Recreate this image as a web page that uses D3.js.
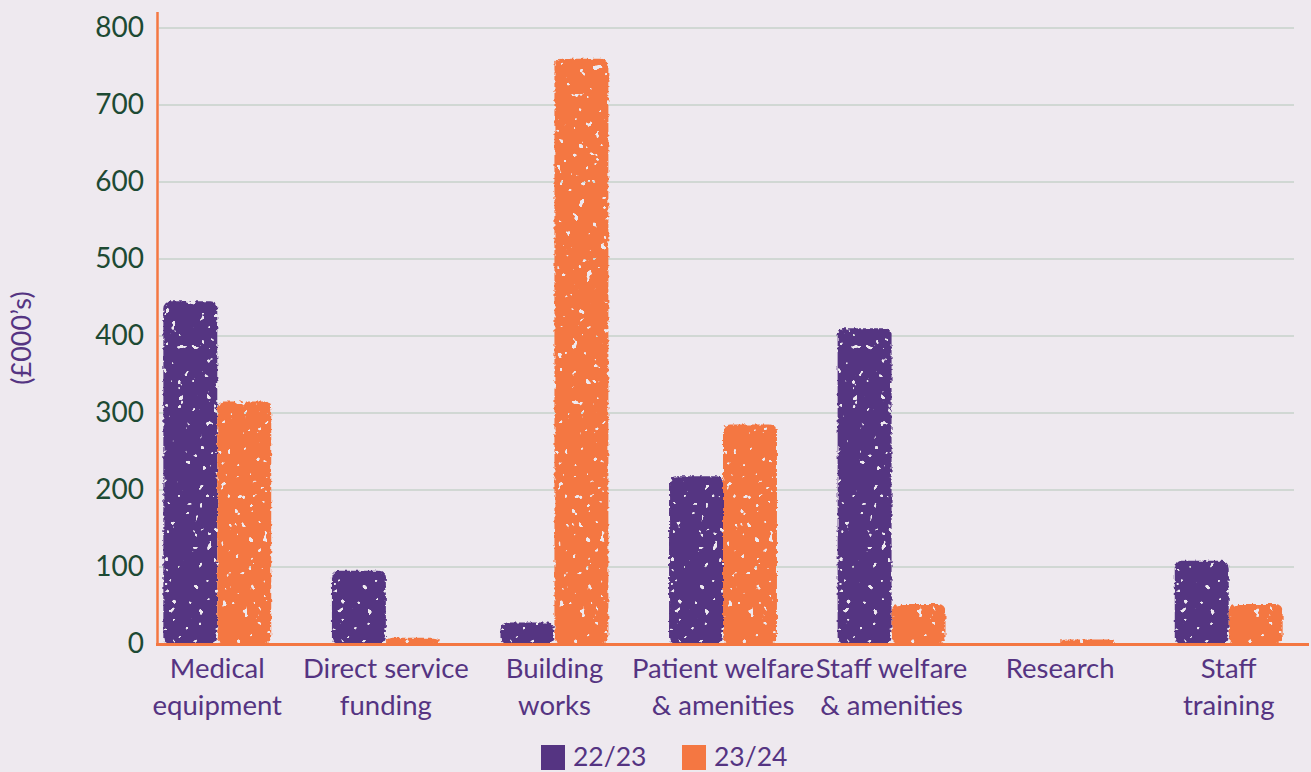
<!DOCTYPE html>
<html>
<head>
<meta charset="utf-8">
<script src="https://cdn.jsdelivr.net/npm/d3@7"></script>
<style>
  body { margin: 0; background: #eee9ef; }
  svg { display: block; font-family: Lato, "Noto Sans", sans-serif; }
</style>
</head>
<body>
<div class="chart"></div>
<script>
// data
let categories = ["Medical\nequipment", "Direct service\nfunding", "Building\nworks", "Patient welfare\n& amenities", "Staff welfare\n& amenities", "Research", "Staff\ntraining"];
let series = ["22/23", "23/24"];
let values2223 = [445, 95, 28, 218, 410, 0, 108];
let values2324 = [315, 8, 760, 285, 52, 6, 52];
let yTicks = [0, 100, 200, 300, 400, 500, 600, 700, 800];

let colorrange = ["#553482", "#f47742"];
let width = 1311, height = 772;

let svg = d3.select(".chart").append("svg")
    .attr("width", width)
    .attr("height", height);

// rough, speckled look of the bars
let defs = svg.append("defs");
let filt = defs.append("filter").attr("id", "rough")
    .attr("x", "-5%").attr("y", "-5%").attr("width", "110%").attr("height", "110%");
filt.append("feTurbulence").attr("type", "fractalNoise").attr("baseFrequency", "0.3")
    .attr("numOctaves", 2).attr("seed", 4).attr("result", "edge");
filt.append("feDisplacementMap").attr("in", "SourceGraphic").attr("in2", "edge")
    .attr("scale", 4).attr("xChannelSelector", "R").attr("yChannelSelector", "G").attr("result", "shaken");
filt.append("feTurbulence").attr("type", "fractalNoise").attr("baseFrequency", "0.14")
    .attr("numOctaves", 2).attr("seed", 9).attr("result", "noise");
filt.append("feColorMatrix").attr("in", "noise").attr("type", "matrix")
    .attr("values", "0 0 0 0 0  0 0 0 0 0  0 0 0 0 0  -30 0 0 0 22").attr("result", "mask");
filt.append("feComposite").attr("in", "shaken").attr("in2", "mask").attr("operator", "in");

let data = categories.map((c, i) => ({cat: c, "22/23": values2223[i], "23/24": values2324[i]}));

let x0 = d3.scaleBand()
    .domain(categories)
    .range([133, 1313])
    .paddingInner(0.36)
    .paddingOuter(0.18);

let x1 = d3.scaleBand()
    .domain(series)
    .range([0, x0.bandwidth()])
    .padding(0);

let y = d3.scaleLinear()
    .domain([0, 800])
    .range([644, 28]);

let z = d3.scaleOrdinal().domain(series).range(colorrange);

// grid lines
svg.append("g")
  .selectAll("line")
  .data(yTicks.filter(d => d > 0))
  .enter().append("line")
    .attr("x1", 159).attr("x2", 1294)
    .attr("y1", d => y(d)).attr("y2", d => y(d))
    .attr("stroke", "#b3c6b8")
    .attr("stroke-width", 1);

// y axis tick labels
let yAxis = d3.axisLeft(y).tickValues(yTicks).tickSize(0).tickPadding(0);
let ga = svg.append("g")
    .attr("transform", "translate(144,0)")
    .call(yAxis);
ga.select(".domain").remove();
ga.selectAll("text")
    .attr("fill", "#1d4a33")
    .attr("font-size", 28)
    .attr("dy", "0.32em")
    .style("font-family", "Lato, sans-serif");

// bars
svg.append("g")
  .selectAll("g")
  .data(data)
  .enter().append("g")
    .attr("transform", d => "translate(" + x0(d.cat) + ",0)")
  .selectAll("rect")
  .data(d => series.map(k => ({key: k, value: d[k]})))
  .enter().append("rect")
    .filter(d => d.value > 0)
    .attr("x", d => x1(d.key))
    .attr("y", d => y(d.value))
    .attr("width", x1.bandwidth())
    .attr("height", d => y(0) - y(d.value))
    .attr("rx", 7)
    .attr("fill", d => z(d.key))
    .attr("filter", "url(#rough)");

// axis lines
svg.append("line")
    .attr("x1", 157.5).attr("x2", 157.5)
    .attr("y1", 12).attr("y2", 645)
    .attr("stroke", "#f47742").attr("stroke-width", 2.5);
svg.append("line")
    .attr("x1", 156).attr("x2", 1309)
    .attr("y1", 644.5).attr("y2", 644.5)
    .attr("stroke", "#f47742").attr("stroke-width", 3);

// category labels
let lab = svg.append("g")
  .selectAll("text")
  .data(categories)
  .enter().append("text")
    .attr("x", d => x0(d) + x0.bandwidth() / 2)
    .attr("y", 678)
    .attr("text-anchor", "middle")
    .attr("fill", "#553482")
    .attr("font-size", 27.5);
lab.selectAll("tspan")
  .data(d => d.split("\n"))
  .enter().append("tspan")
    .attr("x", function() { return this.parentNode.getAttribute("x"); })
    .attr("dy", (d, i) => i == 0 ? 0 : 37)
    .text(d => d);

// y axis title
svg.append("text")
    .attr("transform", "translate(31,338) rotate(-90)")
    .attr("text-anchor", "middle")
    .attr("fill", "#553482")
    .attr("font-size", 27)
    .text("(£000’s)");

// legend
let legend = svg.append("g")
  .selectAll("g")
  .data(series)
  .enter().append("g")
    .attr("transform", (d, i) => "translate(" + (541 + i * 141) + ",745)");
legend.append("rect")
    .attr("width", 24).attr("height", 25)
    .attr("fill", d => z(d));
legend.append("text")
    .attr("x", 32).attr("y", 21)
    .attr("fill", "#553482")
    .attr("font-size", 26.5)
    .text(d => d);
</script>
</body>
</html>
